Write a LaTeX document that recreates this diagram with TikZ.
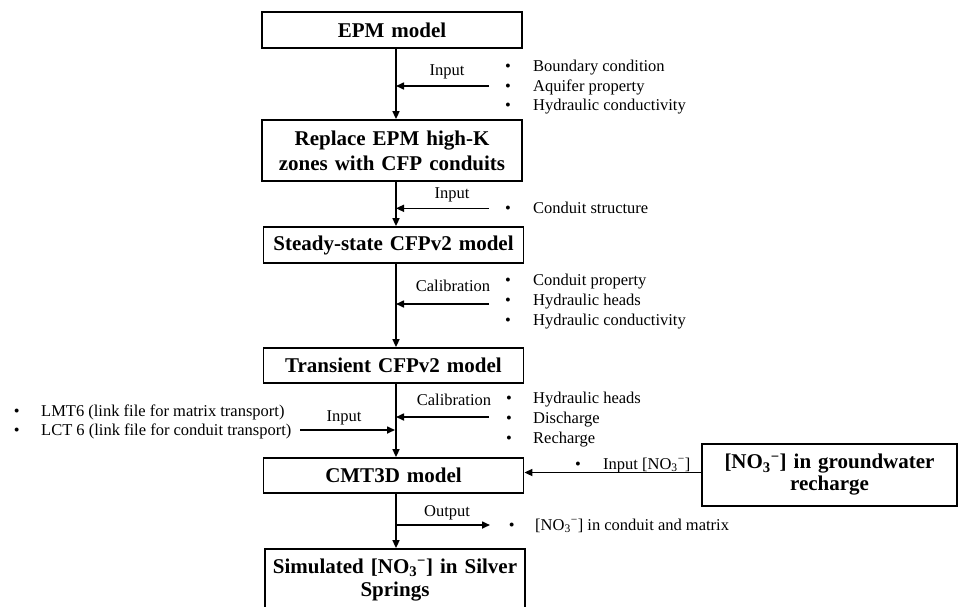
\documentclass[tikz,border=0pt]{standalone}
\usepackage{fontspec}
\setmainfont{Liberation Serif}
\usetikzlibrary{arrows.meta}
\newcommand\nitr{[NO\textsubscript{3}\textsuperscript{−}]}
\begin{document}
\begin{tikzpicture}[x=1pt,y=-1pt,
  box/.style={draw, line width=1.8pt, minimum width=260pt, text width=252pt, align=center,
    font=\fontsize{21}{25}\selectfont\bfseries, inner sep=0pt},
  lbl/.style={font=\fontsize{16.5}{20}\selectfont, inner sep=0pt, anchor=base},
  itm/.style={font=\fontsize{16.5}{20}\selectfont, inner sep=0pt, anchor=base west},
  dot/.style={font=\fontsize{16.5}{20}\selectfont, inner sep=0pt, anchor=base},
  conn/.style={line width=1.6pt, -{Triangle[length=8pt,width=7pt]}},
]
\useasboundingbox (0,0) rectangle (959,606);

% main boxes
\node[box, minimum height=36pt] (b1) at (392,30) {EPM model};
\node[box, minimum height=61pt] (b2) at (392,150.5) {Replace EPM high-K\\zones with CFP conduits};
\node[box, minimum height=36pt] (b3) at (393.5,245) {Steady-state CFPv2 model};
\node[box, minimum height=35pt] (b4) at (393.5,365.5) {Transient CFPv2 model};
\node[box, minimum height=35pt] (b5) at (393.5,475.5) {CMT3D model};
\node[box, minimum height=62pt, font=\fontsize{21}{23}\selectfont\bfseries] (b6) at (395,580) {Simulated \nitr{} in Silver\\Springs};
\node[box, minimum width=255pt, text width=245pt, minimum height=62pt, font=\fontsize{21}{22}\selectfont\bfseries] (rb) at (829.5,475) {\nitr{} in groundwater\\recharge};

% main line
\coordinate (ax) at (396,0);
\draw[conn] (b1.south -| ax) -- (b2.north -| ax);
\draw[conn] (b2.south -| ax) -- (b3.north -| ax);
\draw[conn] (b3.south -| ax) -- (b4.north -| ax);
\draw[conn] (b4.south -| ax) -- (b5.north -| ax);
\draw[conn] (b5.south -| ax) -- (b6.north -| ax);

% side arrows
\coordinate (s1) at (489,86);
\coordinate (s2) at (489,208.3);
\coordinate (s3) at (489,304);
\coordinate (s4) at (489,417);
\coordinate (s5) at (300,430);
\coordinate (o1) at (396,525);
\coordinate (o2) at (490,525);
\draw[conn] (s1) -- (s1 -| ax);
\draw[conn] (s2) -- (s2 -| ax);
\draw[conn] (s3) -- (s3 -| ax);
\draw[conn] (s4) -- (s4 -| ax);
\draw[conn] (s5) -- ([xshift=-1pt]s5 -| ax);
\draw[conn] (o1) -- (o2);
\draw[conn] ([yshift=2.5pt]rb.west) -- ([yshift=2.5pt]rb.west -| b5.east);

% arrow labels
\node[lbl] (l1) at (447,75) {Input};
\node[lbl] (l2) at (452,198) {Input};
\node[lbl] (l3) at (453,291.7) {Calibration};
\node[lbl] (l4) at (454,405.7) {Calibration};
\node[lbl] (l5) at (344,421.7) {Input};
\node[lbl] (l6) at (447,516.7) {Output};

% bullet group 1
\node[dot] (d1a) at (508,71) {•};
\node[itm] (t1a) at (533,71) {Boundary condition};
\node[dot] (d1b) at (508,91) {•};
\node[itm] (t1b) at (533,91) {Aquifer property};
\node[dot] (d1c) at (508,110.5) {•};
\node[itm] (t1c) at (533,110.5) {Hydraulic conductivity};
% group 2
\node[dot] (d2a) at (508,213) {•};
\node[itm] (t2a) at (533,213) {Conduit structure};
% group 3
\node[dot] (d3a) at (508,285.7) {•};
\node[itm] (t3a) at (533,285.7) {Conduit property};
\node[dot] (d3b) at (508,305) {•};
\node[itm] (t3b) at (533,305) {Hydraulic heads};
\node[dot] (d3c) at (508,325) {•};
\node[itm] (t3c) at (533,325) {Hydraulic conductivity};
% group 4
\node[dot] (d4a) at (509,403) {•};
\node[itm] (t4a) at (533,403) {Hydraulic heads};
\node[dot] (d4b) at (509,423) {•};
\node[itm] (t4b) at (533,423) {Discharge};
\node[dot] (d4c) at (509,443) {•};
\node[itm] (t4c) at (533,443) {Recharge};
% left group
\node[dot] (d5a) at (16.7,416) {•};
\node[itm] (t5a) at (41,416) {LMT6 (link file for matrix transport)};
\node[dot] (d5b) at (16.7,435) {•};
\node[itm] (t5b) at (41,435) {LCT 6 (link file for conduit transport)};
% input nitrate
\node[dot] (d6a) at (578,469) {•};
\node[itm] (t6a) at (603,469) {Input \nitr};
% output
\node[dot] (d7a) at (511.7,530) {•};
\node[itm] (t7a) at (535,530) {\nitr{} in conduit and matrix};
\end{tikzpicture}
\end{document}
